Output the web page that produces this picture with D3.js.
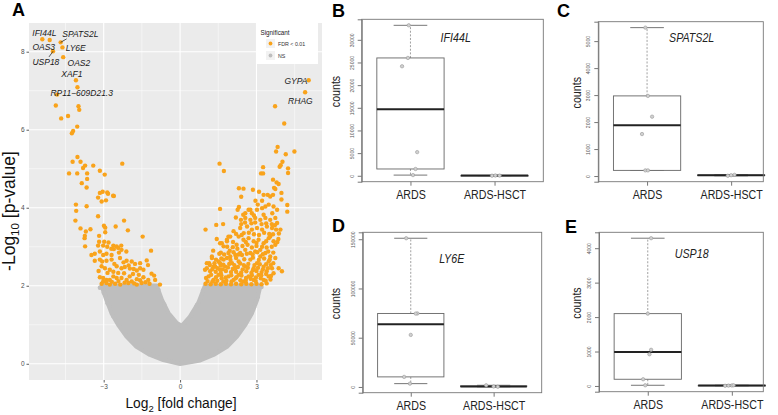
<!DOCTYPE html>
<html>
<head>
<meta charset="utf-8">
<script src="https://cdn.jsdelivr.net/npm/d3@7"></script>
<style>
  body { margin: 0; background: #fff; }
  svg { display: block; }
</style>
</head>
<body>
<div id="fig"></div>
<script>
// ---- panel A : volcano (log2 FC, -log10 p) ----
var labelled = [
  {gene: "IFI44L", lfc: -5.41, p: 8.32},
  {gene: "OAS3", lfc: -5.12, p: 8.30},
  {gene: "SPATS2L", lfc: -4.69, p: 8.24},
  {gene: "LY6E", lfc: -4.62, p: 8.11},
  {gene: "USP18", lfc: -4.99, p: 8.01},
  {gene: "OAS2", lfc: -4.59, p: 7.86},
  {gene: "XAF1", lfc: -4.09, p: 7.27},
  {gene: "RP11\u2212609D21.3", lfc: -4.83, p: 6.90},
  {gene: "GYPA", lfc: 5.05, p: 7.27},
  {gene: "RHAG", lfc: 4.91, p: 6.96}
];

var sigDown = [
  [-4.03,7.09],[-4.88,6.62],[-3.99,6.60],[-3.96,6.51],[-4.67,6.29],[-4.40,6.35],[-4.04,6.08],[-4.20,5.97],[-4.25,5.91],
  [-4.03,5.30],[-4.22,5.18],[-3.91,5.18],[-3.73,5.08],[-3.81,5.02],[-3.41,5.08],[-4.36,4.88],[-4.04,4.88],[-3.65,4.88],
  [-3.15,4.95],[-2.96,4.85],[-2.27,5.13],[-3.65,4.74],[-3.86,4.63],[-3.67,4.52],[-3.15,4.38],[-3.04,4.41],[-2.86,4.39],
  [-2.60,4.30],[-3.22,4.26],[-3.08,4.16],[-2.91,4.19],[-4.09,4.08],[-4.08,3.92],[-3.67,4.04],[-3.22,3.78],[-4.11,3.67],
  [-3.91,3.47],[-3.70,3.39],[-3.52,3.45],[-3.74,3.28],[-3.75,3.22],[-3.73,3.01],[-3.18,3.28],[-2.99,3.54],[-2.94,3.49],
  [-2.53,3.52],[-2.20,3.67],[-2.05,3.42],[-1.47,3.26],[-1.14,2.90],[-2.83,4.36],[-2.63,4.31],[-2.94,3.37],
  [-3.18,3.13],[-2.98,3.13],[-2.81,3.11],[-3.22,3.03],[-3.02,3.03],[-2.62,3.03],[-2.49,3.01],[-2.43,2.97],[-2.31,3.03],
  [-2.30,2.92],[-2.11,2.88],[-2.60,2.94],[-3.48,2.79],[-3.35,2.82],[-3.15,2.88],[-3.02,2.79],[-2.89,2.82],[-2.69,2.79],
  [-3.35,2.64],[-3.15,2.67],[-2.89,2.64],[-2.69,2.67],[-2.36,2.71],[-2.10,2.64],[-1.90,2.62],[-1.77,2.56],[-1.57,2.58],
  [-1.31,2.65],[-1.26,2.53],[-3.08,2.50],[-2.95,2.45],[-2.76,2.41],[-2.49,2.50],[-2.30,2.45],[-2.17,2.48],[-1.97,2.44],
  [-1.70,2.39],[-1.57,2.45],[-1.44,2.41],[-3.15,2.22],[-3.02,2.20],[-2.89,2.15],[-2.76,2.15],[-2.62,2.24],[-2.49,2.20],
  [-2.30,2.20],[-2.10,2.15],[-1.90,2.11],[-1.70,2.17],[-1.57,2.14],[-1.44,2.22],[-1.25,2.15],[-1.02,2.26],[-0.98,2.15],
  [-0.79,2.03],[-3.08,2.05],[-2.89,2.07],[-2.76,2.03],[-2.03,2.07],[-1.70,2.03],[-1.51,2.07],[-3.20,2.38],[-3.02,2.11],
  [-2.55,2.05],[-2.35,2.03],[-2.20,2.32],[-1.85,2.30],[-2.62,2.36],[-1.20,2.05],
  [-2.68,2.10],[-2.42,2.12],[-2.18,2.08],[-1.98,2.24],[-1.80,2.06],[-1.62,2.28],[-1.36,2.09],[-1.12,2.31],[-2.85,2.33],
  [-2.58,2.56],[-2.22,2.60],[-2.02,2.52],[-1.82,2.43],[-2.70,2.95],[-2.86,3.00],[-2.40,2.85],[-3.06,2.62],[-2.43,2.33]
];

var sigUp = [
  [3.73,6.60],[4.09,6.16],[3.83,5.56],[3.77,5.44],[4.15,5.37],[4.49,5.44],[4.02,5.18],[3.91,5.05],[3.95,5.09],[4.24,5.01],
  [4.24,4.89],[1.55,5.13],[1.72,4.94],[3.26,5.04],[3.18,4.88],[3.26,4.88],[3.65,4.72],[3.79,4.65],[3.87,4.61],[3.69,4.51],
  [3.74,4.48],[2.31,4.50],[2.49,4.49],[2.86,4.46],[2.40,4.28],[3.10,4.41],[3.28,4.33],[3.44,4.33],[3.54,4.29],[3.65,4.33],
  [3.98,4.38],[3.98,4.21],[2.96,4.18],[3.22,4.18],[4.21,4.07],[4.21,3.90],[1.57,3.97],[2.31,4.02],[2.26,3.95],
  [2.69,3.95],[2.76,3.95],[2.56,3.86],[2.82,3.86],[3.02,3.95],[3.22,3.99],[3.35,4.03],[3.48,4.08],[3.67,4.03],[3.81,3.95],
  [2.19,3.75],[2.39,3.69],[2.56,3.74],[2.76,3.69],[2.95,3.74],[3.15,3.69],[3.35,3.74],[3.54,3.69],[3.74,3.74],[3.81,3.61],
  [1.00,3.44],[1.42,3.56],[1.69,3.58],[2.36,3.48],[2.63,3.52],[2.82,3.44],[3.02,3.48],[3.22,3.44],[3.41,3.52],[3.61,3.48],
  [3.94,3.44],[3.77,3.44],[1.44,3.20],[1.57,3.09],[1.71,3.01],[1.84,3.18],[1.97,3.26],[2.07,2.99],
  [2.30,3.26],[2.49,3.18],[2.69,3.22],[2.89,3.14],[3.08,3.18],[3.28,3.09],[3.48,3.22],[3.67,3.14],[3.54,3.26],
  [3.74,3.05],[3.54,2.75],[3.35,2.84],[3.15,2.92],[2.95,2.88],[2.76,2.84],[2.56,2.92],[2.36,2.84],[2.17,2.79],[1.97,2.75],
  [1.25,2.71],[1.05,2.58],[1.31,2.49],[0.98,2.41],[1.57,2.58],[1.77,2.49],[1.71,2.67],
  [1.64,3.09],[1.84,3.14],[1.90,3.26],[1.25,2.75],[1.14,2.58],[1.05,2.45],[1.18,2.37],[1.38,2.49],[1.51,2.62],[1.57,2.41],
  [1.70,2.54],[1.84,2.71],[2.04,2.58],[2.17,2.45],[2.30,2.62],[2.43,2.79],[2.56,2.49],[2.76,2.67],[2.89,2.45],[3.02,2.58],
  [3.15,2.75],[3.28,2.49],[3.48,2.62],[3.61,2.45],[3.74,2.71],
  [1.12,2.24],[1.31,2.15],[1.51,2.28],[1.70,2.11],[1.90,2.24],[2.10,2.15],[2.30,2.28],[2.49,2.11],[2.69,2.24],[2.89,2.15],
  [3.08,2.28],[3.28,2.15],[3.48,2.24],[3.67,2.32],[3.87,2.45],[4.00,2.37],
  [1.00,2.05],[1.20,2.04],[1.40,2.05],[1.60,2.04],[1.80,2.05],[2.00,2.04],[2.20,2.05],[2.40,2.04],[2.60,2.05],[2.80,2.04],
  [3.00,2.05],[3.20,2.04],[3.40,2.06],[1.40,2.36],[1.60,2.33],[1.80,2.38],[2.00,2.35],[2.20,2.36],[2.40,2.34],[2.60,2.37],
  [2.80,2.33],[3.00,2.38],[3.20,2.35],[3.40,2.37],[1.95,2.90],[2.25,2.95],[2.65,3.05],[3.00,3.02],[3.40,2.98],[2.10,3.40],
  [2.50,3.35],[2.90,3.32],[3.30,3.36],[3.65,3.32],[2.40,3.58],[2.80,3.60],[3.20,3.58],[3.60,3.58],[1.30,2.90],[1.60,2.85]
];

// the solid-looking core of the up-regulated cloud
var sigUpCore = [
  [1.08,2.12],[1.27,2.11],[1.46,2.13],[1.63,2.19],[1.82,2.13],[2.02,2.11],[2.18,2.19],[2.37,2.14],[2.58,2.13],[2.77,2.18],
  [2.97,2.12],[3.17,2.19],[3.36,2.13],[3.55,2.16],[1.02,2.20],[1.22,2.28],[1.41,2.22],[1.62,2.27],[1.79,2.21],[2.01,2.27],
  [2.21,2.22],[2.41,2.26],[2.59,2.20],[2.82,2.27],[2.98,2.21],[3.19,2.27],[3.38,2.30],[3.57,2.25],[1.27,2.43],[1.48,2.45],
  [1.67,2.42],[1.88,2.47],[2.07,2.43],[2.27,2.48],[2.46,2.42],[2.66,2.46],[2.86,2.40],[3.06,2.46],[3.25,2.42],[3.45,2.45],
  [3.66,2.58],[1.17,2.53],[1.35,2.58],[1.60,2.52],[1.93,2.56],[2.13,2.53],[2.36,2.57],[2.50,2.53],[2.68,2.56],[2.92,2.53],
  [3.13,2.55],[3.38,2.55],[3.56,2.53],[1.41,2.67],[1.62,2.70],[1.98,2.66],[2.20,2.71],[2.52,2.68],[2.86,2.72],[3.09,2.66],
  [3.30,2.70],[3.52,2.67],[1.54,2.82],[1.73,2.80],[1.90,2.84],[2.10,2.86],[2.30,2.80],[2.62,2.82],[2.85,2.80],[3.03,2.86],
  [3.25,2.81],[3.46,2.88],[3.66,2.85],[1.85,3.00],[2.22,3.05],[2.45,3.02],[2.82,2.98],[3.22,3.00],[3.60,3.00],[3.86,3.20],
  [2.08,3.12],[2.58,3.12],[3.00,3.10],[3.38,3.14],[3.82,3.12],[2.20,3.33],[2.42,3.30],[2.70,3.36],[3.10,3.30],[3.50,3.33],
  [3.88,3.34],[2.55,3.62],[2.95,3.62],[3.38,3.60],[3.72,3.55],[2.48,3.82],[2.90,3.80],[3.28,3.82],[3.62,3.86],[3.05,4.08]
];

// not significant cloud: outline of the dense grey points
var nsOuterLeft = [[-3.08,2.0],[-2.89,1.64],[-2.69,1.30],[-2.43,1.00],[-2.10,0.70],[-1.71,0.44],[-1.18,0.23],[-0.66,0.10],[0,0]];
var nsOuterRight = [[0.79,0.09],[1.31,0.23],[1.84,0.44],[2.23,0.70],[2.56,1.00],[2.82,1.30],[3.02,1.64],[3.15,2.0]];
var nsNotch = [[0.98,2.0],[0.72,1.56],[0.39,1.21],[0.07,0.97],[-0.13,1.04],[-0.46,1.30],[-0.72,1.64],[-0.92,2.0]];
var nsLoose = [[-3.15,1.95],[-3.0,1.82],[-2.85,1.55],[-2.62,1.22],[-0.85,1.9],[-0.62,1.52],[0.9,1.88],[0.66,1.5],[3.2,1.97],[3.06,1.72],[2.9,1.45]];

var xTicks = [-3, 0, 3];
var yTicks = [0, 2, 4, 6, 8];

// ---- panels B-E : counts per sample, [value, horizontal jitter] ----
var genes = ["IFI44L", "SPATS2L", "LY6E", "USP18"];
var groups = ["ARDS", "ARDS-HSCT"];
var ardsCounts = [
  [[33200,-0.02],[26000,-0.03],[24160,-0.10],[5220,0.08],[1500,0.06],[150,0.03]],
  [[5500,-0.02],[2970,0.01],[2200,0.06],[1556,-0.06],[210,-0.02],[210,0.01]],
  [[151000,-0.055],[74640,0.08],[74500,0.06],[52860,0],[10220,-0.08],[3370,-0.01]],
  [[4290,0.04],[2100,0],[1050,0.04],[920,0.02],[195,-0.055],[20,-0.03]]
];
var hsctCounts = [
  [[20,-0.03],[40,0.06],[60,0.01]],
  [[10,-0.04],[45,0.04],[30,0.0]],
  [[1700,-0.09],[500,0],[200,0.05]],
  [[5,-0.08],[10,-0.04],[15,0],[20,0.02]]
];
var tickStep = [5000, 1000, 50000, 1000];

var W = 778, H = 415;
var NARROW = 0.82;   // horizontal squeeze standing in for the condensed label font
var svg = d3.select("#fig").append("svg").attr("width", W).attr("height", H)
  .style("font-family", "'Liberation Sans', Arial, sans-serif");

// ================= panel A =================
var pA = {l: 29, r: 322, t: 23, b: 380};
var sigAll = sigDown.concat(sigUp).concat(sigUpCore);
var allX = sigAll.map(function(d){ return d[0]; }).concat(labelled.map(function(d){ return d.lfc; }));
var allY = sigAll.map(function(d){ return d[1]; }).concat(labelled.map(function(d){ return d.p; })).concat([0]);
var xe = d3.extent(allX), ye = d3.extent(allY);
var xpad = 0.05 * (xe[1] - xe[0]), ypad = 0.05 * (ye[1] - ye[0]);
var x = d3.scaleLinear().domain([xe[0] - xpad, xe[1] + xpad]).range([pA.l, pA.r]);
var y = d3.scaleLinear().domain([ye[0] - ypad, ye[1] + ypad]).range([pA.b, pA.t]);

var gA = svg.append("g");
gA.append("rect").attr("x", pA.l).attr("y", pA.t).attr("width", pA.r - pA.l).attr("height", pA.b - pA.t).attr("fill", "#ebebeb");

var xMinor = [], yMinor = [];
for (var i = 0; i < xTicks.length - 1; i++) xMinor.push((xTicks[i] + xTicks[i+1]) / 2);
xMinor.unshift(xTicks[0] - (xTicks[1] - xTicks[0]) / 2); xMinor.push(xTicks[xTicks.length-1] + (xTicks[1] - xTicks[0]) / 2);
for (i = 0; i < yTicks.length - 1; i++) yMinor.push((yTicks[i] + yTicks[i+1]) / 2);

gA.selectAll(".vmin").data(xMinor).enter().append("line")
  .attr("x1", x).attr("x2", x).attr("y1", pA.t).attr("y2", pA.b).attr("stroke", "#fff").attr("stroke-width", 0.5);
gA.selectAll(".hmin").data(yMinor).enter().append("line")
  .attr("y1", y).attr("y2", y).attr("x1", pA.l).attr("x2", pA.r).attr("stroke", "#fff").attr("stroke-width", 0.5);
gA.selectAll(".vmaj").data(xTicks).enter().append("line")
  .attr("x1", x).attr("x2", x).attr("y1", pA.t).attr("y2", pA.b).attr("stroke", "#fff").attr("stroke-width", 1.1);
gA.selectAll(".hmaj").data(yTicks).enter().append("line")
  .attr("y1", y).attr("y2", y).attr("x1", pA.l).attr("x2", pA.r).attr("stroke", "#fff").attr("stroke-width", 1.1);

// axes (ggplot style ticks)
var ax = gA.append("g").attr("transform", "translate(0," + pA.b + ")")
  .call(d3.axisBottom(x).tickValues(xTicks).tickSize(2.5).tickPadding(2).tickFormat(d3.format("d")));
var ay = gA.append("g").attr("transform", "translate(" + pA.l + ",0)")
  .call(d3.axisLeft(y).tickValues(yTicks).tickSize(2.5).tickPadding(2).tickFormat(d3.format("d")));
[ax, ay].forEach(function(a){
  a.select(".domain").remove();
  a.selectAll("line").attr("stroke", "#333").attr("stroke-width", 0.8);
  a.selectAll("text").attr("fill", "#4d4d4d").style("font-size", "6.5px").style("font-family", "'Liberation Sans', Arial, sans-serif");
});

// NS cloud
var cloud = nsOuterLeft.concat(nsOuterRight).concat(nsNotch);
gA.append("path")
  .attr("d", d3.line().x(function(d){ return x(d[0]); }).y(function(d){ return y(d[1]); }).curve(d3.curveLinearClosed)(cloud))
  .attr("fill", "#bebebe").attr("stroke", "#bebebe").attr("stroke-width", 4.4).attr("stroke-linejoin", "round");
gA.selectAll(".ns").data(nsLoose).enter().append("circle")
  .attr("cx", function(d){ return x(d[0]); }).attr("cy", function(d){ return y(d[1]); }).attr("r", 2.2).attr("fill", "#bebebe");

var orange = "#f9a31b";
gA.selectAll(".sig").data(sigAll).enter().append("circle")
  .attr("cx", function(d){ return x(d[0]); }).attr("cy", function(d){ return y(d[1]); }).attr("r", 2.2).attr("fill", orange);
gA.selectAll(".lab").data(labelled).enter().append("circle")
  .attr("cx", function(d){ return x(d.lfc); }).attr("cy", function(d){ return y(d.p); }).attr("r", 2.2).attr("fill", orange);

// repel-like label offsets (px from point: text start, baseline) and optional segment ends
var labelNudge = {
  "IFI44L": [-10, -3.3], "OAS3": [-17.3, 10], "SPATS2L": [1.7, -5], "LY6E": [3.3, 3.3],
  "USP18": [-20.6, 14], "OAS2": [4.4, 8.4], "XAF1": [-14.7, -3], "RP11\u2212609D21.3": [-6.6, 1.7],
  "GYPA": [-24.3, 3.7], "RHAG": [-17, 11.3]
};
var segEnd = {"SPATS2L": [6, -3.5], "USP18": [-4, 5.6]};
gA.selectAll(".seg").data(labelled.filter(function(d){ return segEnd[d.gene]; })).enter().append("line")
  .attr("x1", function(d){ return x(d.lfc); }).attr("y1", function(d){ return y(d.p); })
  .attr("x2", function(d){ return x(d.lfc) + segEnd[d.gene][0]; }).attr("y2", function(d){ return y(d.p) + segEnd[d.gene][1]; })
  .attr("stroke", "#111").attr("stroke-width", 0.7);
gA.selectAll(".gl").data(labelled).enter().append("text")
  .attr("x", function(d){ return x(d.lfc) + labelNudge[d.gene][0]; })
  .attr("y", function(d){ return y(d.p) + labelNudge[d.gene][1]; })
  .attr("font-style", "italic").attr("font-size", 8.5).attr("fill", "#1a1a1a")
  .text(function(d){ return d.gene; });

// legend
var lg = gA.append("g").attr("transform", "translate(257,23)");
lg.append("rect").attr("width", 61).attr("height", 41).attr("fill", "#fff");
lg.append("text").attr("x", 3.5).attr("y", 11.5).attr("font-size", 6.3).attr("fill", "#222").text("Significant");
var legItems = [{name: "FDR < 0.01", col: orange}, {name: "NS", col: "#bebebe"}];
var li = lg.selectAll(".li").data(legItems).enter().append("g")
  .attr("transform", function(d, k){ return "translate(9," + (16 + k * 12) + ")"; });
li.append("rect").attr("width", 9).attr("height", 9).attr("fill", "#f2f2f2");
li.append("circle").attr("cx", 4.5).attr("cy", 4.5).attr("r", 1.9).attr("fill", function(d){ return d.col; });
li.append("text").attr("x", 12).attr("y", 6.8).attr("font-size", 5.3).attr("fill", "#333").text(function(d){ return d.name; });

// axis titles
var yt = gA.append("text").attr("transform", "translate(15,211) rotate(-90)")
  .attr("text-anchor", "middle").attr("font-size", 17.5).attr("fill", "#111");
yt.append("tspan").text("-Log");
yt.append("tspan").attr("font-size", 11.5).attr("dy", 4).text("10");
yt.append("tspan").attr("dy", -4).text(" [p-value]");
var xt = gA.append("text").attr("x", 181).attr("y", 408)
  .attr("text-anchor", "middle").attr("font-size", 13.8).attr("fill", "#111");
xt.append("tspan").text("Log");
xt.append("tspan").attr("font-size", 9.5).attr("dy", 4).text("2");
xt.append("tspan").attr("dy", -4).text(" [fold change]");

// ================= panels B-E =================
var frames = [
  {l: 361.7, t: 19.3, r: 543.3, b: 181.7, clipR: null, lab: [94, 22.4], cx: 339.5},
  {l: 598.3, t: 21.7, r: 779.9, b: 181.7, clipR: 763.3, lab: [93.4, 20], cx: 580.5},
  {l: 362.7, t: 232.3, r: 541.7, b: 392.7, clipR: null, lab: [89, 31], cx: 339.5},
  {l: 599, t: 232.3, r: 780.6, b: 391.7, clipR: 763.3, lab: [92.7, 26], cx: 580.5}
];

function fivenum(v) {
  var s = v.slice().sort(function(a, b){ return a - b; }), n = s.length;
  var n4 = Math.floor((n + 3) / 2) / 2;
  return [1, n4, (n + 1) / 2, n + 1 - n4, n].map(function(d){
    return 0.5 * (s[Math.floor(d) - 1] + s[Math.ceil(d) - 1]);
  });
}

genes.forEach(function(gene, k) {
  var f = frames[k];
  var sets = [ardsCounts[k], hsctCounts[k]];
  var vals = sets[0].concat(sets[1]).map(function(d){ return d[0]; });
  var ex = d3.extent(vals), pad = 0.04 * (ex[1] - ex[0]);
  var ys = d3.scaleLinear().domain([ex[0] - pad, ex[1] + pad]).range([f.b, f.t]);
  var xs = d3.scaleLinear().domain([0.42, 2.58]).range([f.l, f.r]);
  var right = f.clipR || f.r;
  var g = svg.append("g");
  var bw = 0.4;

  sets.forEach(function(set, j) {
    var v = set.map(function(d){ return d[0]; });
    var q = fivenum(v), iqr = q[3] - q[1];
    var hi = d3.max(v.filter(function(d){ return d <= q[3] + 1.5 * iqr; }));
    var lo = d3.min(v.filter(function(d){ return d >= q[1] - 1.5 * iqr; }));
    var c = j + 1;
    g.append("line").attr("x1", xs(c)).attr("x2", xs(c)).attr("y1", ys(q[3])).attr("y2", ys(hi))
      .attr("stroke", "#888").attr("stroke-dasharray", "2,1.6").attr("stroke-width", 0.8);
    g.append("line").attr("x1", xs(c)).attr("x2", xs(c)).attr("y1", ys(q[1])).attr("y2", ys(lo))
      .attr("stroke", "#888").attr("stroke-dasharray", "2,1.6").attr("stroke-width", 0.8);
    [hi, lo].forEach(function(w){
      g.append("line").attr("x1", xs(c - bw / 2)).attr("x2", xs(c + bw / 2)).attr("y1", ys(w)).attr("y2", ys(w))
        .attr("stroke", "#666").attr("stroke-width", 0.9);
    });
    g.append("rect").attr("x", xs(c - bw)).attr("width", xs(c + bw) - xs(c - bw))
      .attr("y", ys(q[3])).attr("height", Math.max(0.5, ys(q[1]) - ys(q[3])))
      .attr("fill", "#fff").attr("stroke", "#666").attr("stroke-width", 0.9);
    g.append("line").attr("x1", xs(c - bw)).attr("x2", xs(c + bw)).attr("y1", ys(q[2])).attr("y2", ys(q[2]))
      .attr("stroke", "#222").attr("stroke-width", 2);
    g.selectAll(".pt" + j).data(set).enter().append("circle")
      .attr("cx", function(d){ return xs(c + d[1]); }).attr("cy", function(d){ return ys(d[0]); })
      .attr("r", 1.7).attr("fill", "#d0d0d0").attr("stroke", "#999").attr("stroke-width", 0.6);
  });

  // frame
  g.append("rect").attr("x", f.l).attr("y", f.t).attr("width", right - f.l).attr("height", f.b - f.t)
    .attr("fill", "none").attr("stroke", "#777").attr("stroke-width", 0.9);

  // y axis, R-style labels parallel to the axis
  var yv = d3.range(0, ex[1] + pad, tickStep[k]);
  var ya = g.append("g").attr("transform", "translate(" + f.l + ",0)")
    .call(d3.axisLeft(ys).tickValues(yv).tickSize(4).tickFormat(d3.format("d")));
  ya.select(".domain").attr("stroke", "#777");
  ya.selectAll("line").attr("stroke", "#777");
  ya.selectAll(".tick text").attr("x", null).attr("dy", null).attr("y", 0)
    .attr("transform", "translate(-8,0) rotate(-90)").attr("text-anchor", "middle")
    .style("font-size", "5px").attr("fill", "#555");

  // x axis
  var xa = g.append("g").attr("transform", "translate(0," + f.b + ")")
    .call(d3.axisBottom(xs).tickValues([1, 2]).tickSize(4).tickPadding(4).tickFormat(function(d){ return groups[d - 1]; }));
  xa.select(".domain").remove();
  xa.selectAll("line").attr("stroke", "#777");
  xa.selectAll("text").attr("transform", "scale(" + NARROW + ",1)").style("font-size", "13px").attr("fill", "#222");

  // counts label + gene title
  g.append("text").attr("transform", "translate(" + f.cx + "," + ((f.t + f.b) / 2 - 9) + ") rotate(-90) scale(" + NARROW + ",1)")
    .attr("text-anchor", "middle").attr("font-size", 13).attr("fill", "#222").text("counts");
  g.append("text").attr("transform", "translate(" + (f.l + f.lab[0]) + "," + (f.t + f.lab[1]) + ") scale(" + NARROW + ",1)")
    .attr("text-anchor", "middle").attr("font-style", "italic").attr("font-size", 13).attr("fill", "#222").text(gene);
});

// panel letters
var letters = [["A", 12, 16], ["B", 332, 17], ["C", 557, 17], ["D", 332, 232], ["E", 565, 233]];
svg.selectAll(".letter").data(letters).enter().append("text")
  .attr("x", function(d){ return d[1]; }).attr("y", function(d){ return d[2]; })
  .attr("font-weight", "bold").attr("font-size", 18).attr("fill", "#000")
  .text(function(d){ return d[0]; });
</script>
</body>
</html>
